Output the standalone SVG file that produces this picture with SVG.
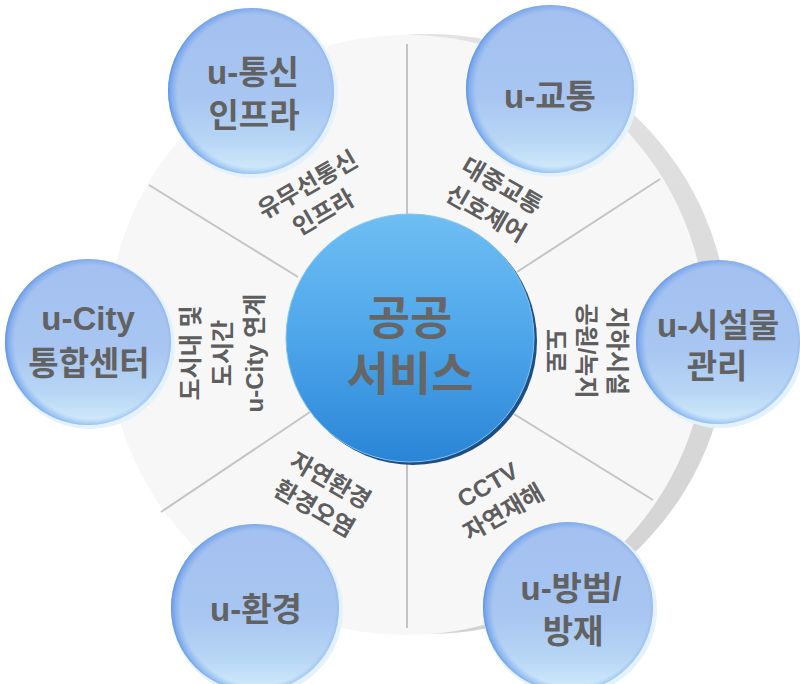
<svg xmlns="http://www.w3.org/2000/svg" width="800" height="684" viewBox="0 0 800 684">
<defs>
<linearGradient id="shadowG" x1="0" y1="0" x2="0" y2="1">
<stop offset="0" stop-color="#e2e2e2"/><stop offset="1" stop-color="#d2d2d2"/>
</linearGradient>
<linearGradient id="centerG" x1="0" y1="0" x2="0" y2="1">
<stop offset="0" stop-color="#6ebef3"/><stop offset="0.5" stop-color="#4ea6ea"/><stop offset="1" stop-color="#2a85d7"/>
</linearGradient>
<linearGradient id="outerG" x1="0" y1="0" x2="0" y2="1">
<stop offset="0" stop-color="#a3c0f0"/><stop offset="0.55" stop-color="#a8c6f1"/><stop offset="0.8" stop-color="#b7d6f5"/><stop offset="1" stop-color="#d3ecfb"/>
</linearGradient>
<radialGradient id="rimG" cx="0.52" cy="0.5" r="0.53">
<stop offset="0.87" stop-color="#5a92e8" stop-opacity="0"/><stop offset="0.95" stop-color="#4a88e6" stop-opacity="0.45"/><stop offset="1" stop-color="#3a78e0" stop-opacity="0.9"/>
</radialGradient>
<style>
.sep{stroke:#c4c4c4;stroke-width:2;fill:none}
.halo{fill:#e3f2fd}
.ofill{fill:url(#outerG)}
.orim{fill:url(#rimG)}
.big{font-family:"Liberation Sans","Noto Sans CJK KR",sans-serif;font-weight:bold;font-size:33px;fill:#626262;text-anchor:middle}
.lbl{font-family:"Liberation Sans","Noto Sans CJK KR",sans-serif;font-weight:bold;font-size:24px;fill:#5e5e5e;text-anchor:middle}
.ctr{font-family:"Liberation Sans","Noto Sans CJK KR",sans-serif;font-weight:bold;font-size:46px;fill:#666666;text-anchor:middle}
</style>
</defs>
<rect width="800" height="684" fill="#ffffff"/>
<g id="base">
<circle cx="429" cy="334" r="300" fill="url(#shadowG)"/>
<circle cx="407" cy="335" r="300" fill="#f7f7f7"/>
</g>
<g id="connectors">
<line class="sep" x1="407" y1="44" x2="407" y2="218"/>
<line class="sep" x1="407" y1="458" x2="407" y2="628"/>
<line class="sep" x1="149" y1="185" x2="298" y2="277"/>
<line class="sep" x1="660" y1="179" x2="517" y2="272"/>
<line class="sep" x1="161" y1="512" x2="310" y2="412"/>
<line class="sep" x1="653" y1="500" x2="514" y2="414"/>
</g>
<g id="labels">
<g transform="translate(315.5,198.5) rotate(-30)"><text class="lbl" y="-7.5">유무선통신</text><text class="lbl" y="24.5">인프라</text></g>
<g transform="translate(494,199.5) rotate(30)"><text class="lbl" y="-7.5">대중교통</text><text class="lbl" y="24.5">신호제어</text></g>
<g transform="translate(586,351) rotate(90)"><text class="lbl" y="-22.5">지하시설</text><text class="lbl" y="8.5">공원/녹지</text><text class="lbl" y="39.5">도로</text></g>
<g transform="translate(222,353) rotate(-90)"><text class="lbl" y="-23.5">도시내 및</text><text class="lbl" y="8.5">도시간</text><text class="lbl" y="40.5">u-City 연계</text></g>
<g transform="translate(322.5,494.5) rotate(30)"><text class="lbl" y="-7.5">자연환경</text><text class="lbl" y="24.5">환경오염</text></g>
<g transform="translate(495.5,498.5) rotate(-30)"><text class="lbl" y="-7.5">CCTV</text><text class="lbl" y="24.5">자연재해</text></g>
</g>
<g id="center">
<circle cx="413" cy="341" r="124" fill="#1b4f86"/>
<circle cx="410" cy="338" r="124" fill="url(#centerG)" stroke="#86c4ee" stroke-width="1"/>
<text class="ctr" x="410" y="334">공공</text>
<text class="ctr" x="410" y="390">서비스</text>
</g>
<g id="n-tongsin">
<circle class="halo" cx="253" cy="93" r="85"/>
<circle class="ofill" cx="251" cy="91" r="83"/>
<circle class="orim" cx="251" cy="91" r="83"/>
<text class="big" x="253" y="84">u-통신</text>
<text class="big" x="254" y="127">인프라</text>
</g>
<g id="n-gyotong">
<circle class="halo" cx="552" cy="91" r="86"/>
<circle class="ofill" cx="550" cy="89" r="84"/>
<circle class="orim" cx="550" cy="89" r="84"/>
<text class="big" x="550" y="108">u-교통</text>
</g>
<g id="n-siseol">
<circle class="halo" cx="720" cy="344" r="84"/>
<circle class="ofill" cx="718" cy="342" r="82"/>
<circle class="orim" cx="718" cy="342" r="82"/>
<text class="big" x="718" y="337">u-시설물</text>
<text class="big" x="717" y="378">관리</text>
</g>
<g id="n-ucity">
<circle class="halo" cx="90" cy="344" r="85"/>
<circle class="ofill" cx="88" cy="342" r="83"/>
<circle class="orim" cx="88" cy="342" r="83"/>
<text class="big" x="88" y="330">u-City</text>
<text class="big" x="89" y="375">통합센터</text>
</g>
<g id="n-hwangyeong">
<circle class="halo" cx="257" cy="610" r="86"/>
<circle class="ofill" cx="255" cy="608" r="84"/>
<circle class="orim" cx="255" cy="608" r="84"/>
<text class="big" x="256" y="621">u-환경</text>
</g>
<g id="n-bangbeom">
<circle class="halo" cx="570" cy="609" r="87"/>
<circle class="ofill" cx="568" cy="607" r="85"/>
<circle class="orim" cx="568" cy="607" r="85"/>
<text class="big" x="571" y="600">u-방범/</text>
<text class="big" x="573" y="643">방재</text>
</g>
</svg>
